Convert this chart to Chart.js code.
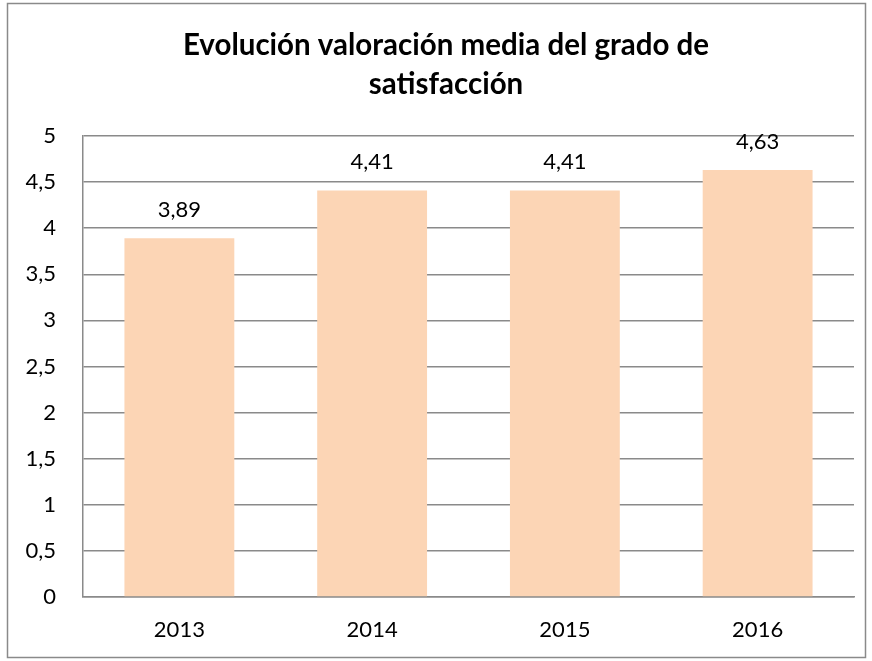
<!DOCTYPE html>
<html>
<head>
<meta charset="utf-8">
<script src="https://cdn.jsdelivr.net/npm/chart.js@4"></script>
<style>
  html, body { margin: 0; padding: 0; background: #fff; }
  #wrap { width: 872px; height: 661px; }
</style>
</head>
<body>
<div id="wrap"><canvas id="chart" width="872" height="661"></canvas></div>
<script>
const years = ["2013", "2014", "2015", "2016"];
const satisfaction = [3.89, 4.41, 4.41, 4.63];
const titleLines = ["Evolución valoración media del grado de", "satisfacción"];

const fmt = v => String(v).replace(".", ",");
const FONT = "Lato, 'Open Sans', sans-serif";

// frame, title (slightly right of centre, like the original) and value labels
const framePlugin = {
  id: "frame",
  beforeDraw(chart) {
    const c = chart.ctx;
    c.save();
    c.fillStyle = "#fff";
    c.fillRect(0, 0, chart.width, chart.height);
    c.strokeStyle = "#8a8a8a";
    c.lineWidth = 1.5;
    c.strokeRect(7.5, 3.5, 858, 654);
    c.font = "bold 29.5px " + FONT;
    c.fillStyle = "#000";
    c.textAlign = "center";
    c.textBaseline = "middle";
    titleLines.forEach((t, i) => c.fillText(t, 446, 45 + i * 39));
    c.restore();
  },
  afterDatasetsDraw(chart) {
    const c = chart.ctx;
    const meta = chart.getDatasetMeta(0);
    c.save();
    c.font = "22px " + FONT;
    c.fillStyle = "#000";
    c.textAlign = "center";
    c.textBaseline = "middle";
    meta.data.forEach((bar, i) => {
      c.fillText(fmt(satisfaction[i]), bar.x, bar.y - 28);
    });
    c.restore();
  }
};

new Chart(document.getElementById("chart"), {
  type: "bar",
  data: {
    labels: years,
    datasets: [{
      data: satisfaction,
      backgroundColor: "#fcd5b5",
      categoryPercentage: 0.57,
      barPercentage: 1
    }]
  },
  options: {
    responsive: false,
    animation: false,
    layout: { padding: { left: 8, right: 18, top: 136, bottom: 0 } },
    plugins: {
      legend: { display: false },
      tooltip: { enabled: false },
      title: { display: false }
    },
    scales: {
      y: {
        min: 0,
        max: 5,
        ticks: {
          stepSize: 0.5,
          color: "#000",
          padding: 27,
          font: { family: FONT, size: 22 },
          callback: v => fmt(v)
        },
        grid: { color: "#8a8a8a", lineWidth: 1.5, drawTicks: false },
        border: { color: "#8a8a8a", width: 1.5 },
        afterFit(s) { s.width = 75; }
      },
      x: {
        ticks: {
          color: "#000",
          padding: 20,
          font: { family: FONT, size: 22 }
        },
        grid: { display: false, drawTicks: false },
        border: { color: "#8a8a8a", width: 1.5 },
        afterFit(s) { s.height = 64; }
      }
    }
  },
  plugins: [framePlugin]
});
</script>
</body>
</html>
